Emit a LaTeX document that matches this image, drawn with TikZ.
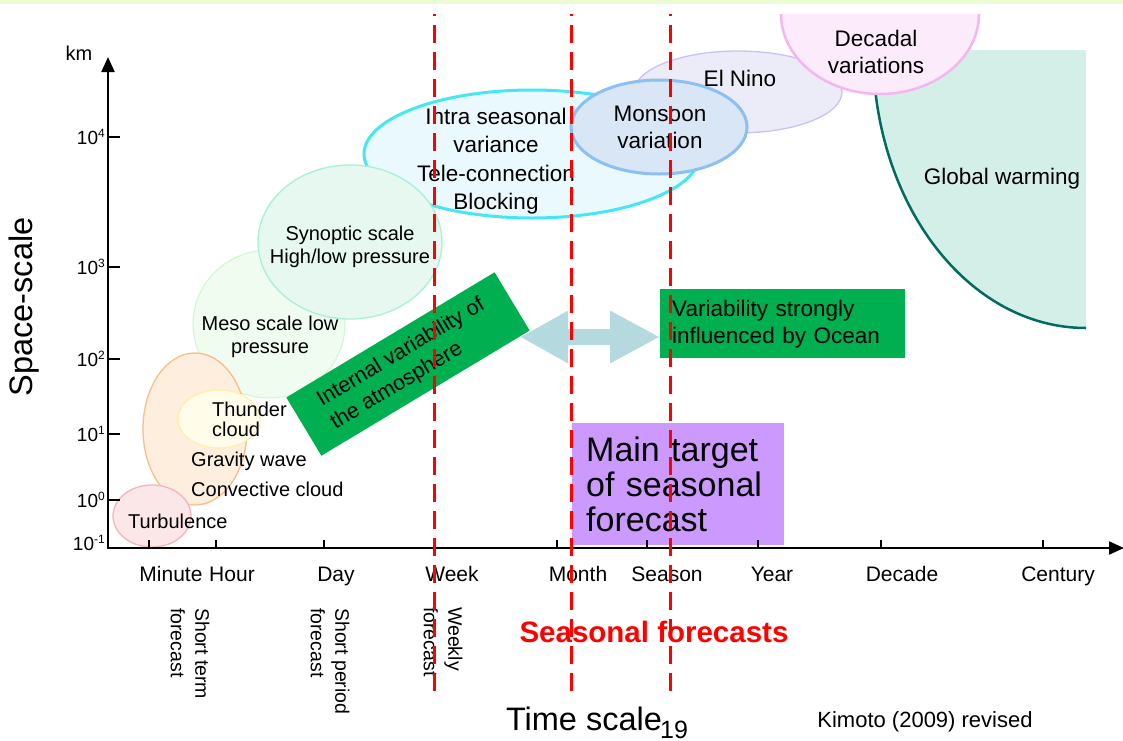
\documentclass[tikz,border=0pt]{standalone}
\usepackage{fontspec}
\setmainfont{Liberation Sans}
\usepackage{tikz}
\usetikzlibrary{arrows.meta,positioning,calc,shapes.geometric}
\definecolor{topband}{HTML}{EBFBD2}
\definecolor{oceangreen}{HTML}{00B050}
\definecolor{targetpurple}{HTML}{CC99FF}
\definecolor{arrowblue}{HTML}{B4DADF}
\definecolor{warmline}{HTML}{006B5F}
\definecolor{warmfill}{HTML}{D4EFE7}
\definecolor{turbdraw}{HTML}{F5B5BD}
\definecolor{turbfill}{HTML}{FBE6E8}
\definecolor{convdraw}{HTML}{F8BE8A}
\definecolor{convfill}{HTML}{FDEEDD}
\definecolor{thunddraw}{HTML}{FFEFB0}
\definecolor{thundfill}{HTML}{FFFDEA}
\definecolor{mesodraw}{HTML}{CDF7D0}
\definecolor{mesofill}{HTML}{F0FCF0}
\definecolor{syndraw}{HTML}{A8F0D8}
\definecolor{synfill}{HTML}{E6F8F0}
\definecolor{intradraw}{HTML}{45E8F2}
\definecolor{intrafill}{HTML}{EAF9FD}
\definecolor{ninodraw}{HTML}{C9C3F3}
\definecolor{ninofill}{HTML}{ECEBF8}
\definecolor{monsdraw}{HTML}{8CBFF2}
\definecolor{monsfill}{HTML}{D8E6F6}
\definecolor{decdraw}{HTML}{F4B6EE}
\definecolor{decfill}{HTML}{FCEBFA}
\tikzset{
  blob/.style     = {ellipse,draw,line width=1.3pt,inner sep=0pt},
  txt/.style      = {font=\fontsize{20}{23}\selectfont,align=center,inner sep=0pt},
  bigtxt/.style   = {font=\fontsize{22.5}{27}\selectfont,align=center,inner sep=0pt},
  timelbl/.style  = {font=\fontsize{21}{21}\selectfont,anchor=base,inner sep=0pt},
  powlbl/.style   = {font=\fontsize{19}{19}\selectfont,anchor=base east,inner sep=0pt},
  fclbl/.style    = {font=\fontsize{19.5}{24.5}\selectfont,align=left,rotate=-90,
                     anchor=west,inner sep=0pt},
  greenbox/.style = {fill=oceangreen,font=\fontsize{22.5}{27}\selectfont,align=left,
                     inner sep=0pt},
  axis/.style     = {line width=2pt,-{Triangle[length=15pt,width=13pt]}},
  dblarrow/.style = {arrowblue,line width=16pt,
                     {Triangle[length=48pt,width=49pt]}-{Triangle[length=50pt,width=49pt]}},
  seasonline/.style = {red,line width=3pt,dash pattern=on 18pt off 9pt,dash phase=16pt},
}
\newcommand{\tenpow}[1]{10\raisebox{7pt}{\fontsize{12}{12}\selectfont #1}}

\begin{document}
\begin{tikzpicture}[x=1pt,y=-1pt,font=\fontsize{20}{23}\selectfont]
  \useasboundingbox (0,0) rectangle (1123,740);
  \fill[white] (0,0) rectangle (1123,740);
  \fill[topband] (0,0) rectangle (1123,4);

  % Phenomena, small to large
  \node[blob,draw=intradraw,fill=intrafill,line width=3pt,
        minimum width=336pt,minimum height=128pt] (intra) at (532,154) {};
  \node[blob,draw=mesodraw,fill=mesofill,line width=1pt,
        minimum width=152pt,minimum height=148pt] (meso) at (269,324) {};
  \node[blob,draw=syndraw,fill=synfill,
        minimum width=184pt,minimum height=154pt] (syn) at (350,242) {};
  \node[blob,draw=convdraw,fill=convfill,
        minimum width=104pt,minimum height=152pt] (conv) at (195,429) {};
  \node[blob,draw=thunddraw,fill=thundfill,
        minimum width=82pt,minimum height=58pt] (thund) at (219,419) {};
  \node[blob,draw=turbdraw,fill=turbfill,
        minimum width=78pt,minimum height=62pt] (turb) at (152,516) {};
  \node[blob,draw=ninodraw,fill=ninofill,
        minimum width=208pt,minimum height=82pt] (nino) at (738,92) {};
  \node[blob,draw=monsdraw,fill=monsfill,line width=3pt,
        minimum width=176pt,minimum height=94pt] (mons) at (659,127) {};
  % Global warming
  \fill[warmfill] (873,50) .. controls (873,204) and (968,328) .. (1086,328)
                  -- (1086,50) -- cycle;
  \draw[warmline,line width=2.5pt] (873,50) .. controls (873,204) and (968,328) .. (1086,328);
  \begin{scope}
    \clip (0,14) rectangle (1123,740);
    \node[blob,draw=decdraw,fill=decfill,line width=2.5pt,
          minimum width=198pt,minimum height=160pt] (dec) at (880,14) {};
  \end{scope}

  % Texts of the phenomena
  \node[txt,anchor=base west] (turbT) at (128,528) {Turbulence};
  \node[txt,anchor=base west] (convT) at (191,496) {Convective cloud};
  \node[txt,anchor=base west] (gravT) at (191,466) {Gravity wave};
  \node[txt,align=left,anchor=west,font=\fontsize{20}{20}\selectfont] (thundT)
        at (212,419) {Thunder\\cloud};
  \node[txt] (mesoT) at (270,337) {Meso scale low\\pressure};
  \node[txt] (synT) at (350,247) {Synoptic scale\\High/low pressure};
  \node[bigtxt,font=\fontsize{22.5}{28.5}\selectfont] (intraT) at (496,161)
        {Intra seasonal\\variance\\Tele-connection\\Blocking};
  \node[bigtxt] (monsT) at (660,127) {Monsoon\\variation};
  \node[bigtxt] (ninoT) at (740,78) {El Nino};
  \node[bigtxt] (decT) at (876,52) {Decadal\\variations};
  \node[bigtxt] (warmT) at (1002,179) {Global warming};

  % Boxes and arrow
  \node[greenbox,anchor=north west,text width=221pt,inner xsep=12pt,
        minimum height=69pt] (ocean) at (660,289)
        {Variability strongly\\influenced by Ocean};
  \coordinate (arrL) at (520,337);
  \coordinate (arrR) at (ocean.west |- arrL);
  \draw[dblarrow] (arrL) -- (arrR);
  \node[greenbox,rotate=31,minimum width=243pt,minimum height=68pt,
        font=\fontsize{21.5}{26.5}\selectfont] (intvar)
        at (408,364) {Internal variability of\\the atmosphere};
  \node[fill=targetpurple,anchor=north west,text width=184pt,inner xsep=14pt,
        inner ysep=0pt,minimum height=122pt,align=left,
        font=\fontsize{34}{35}\selectfont] (target) at (572,423)
        {Main target\\of seasonal\\forecast};

  % Axes
  \draw[axis] (108,549) -- (108,57);
  \draw[axis] (107,548) -- (1124,548);
  \node[txt,anchor=base] (km) at (79,60) {km};
  \foreach \e/\y in {4/137,3/267,2/359,1/434,0/500}{
    \draw[line width=1.5pt] (109,\y) -- (120,\y);
  }
  \foreach \e/\y in {4/137,3/267,2/359,1/434,0/500,-1/543}{
    \node[powlbl] at (105,\y+7.5) {\tenpow{\e}};
  }
  \node[rotate=90,inner sep=0pt,font=\fontsize{32.5}{32.5}\selectfont] (space)
        at (24,307) {Space-scale};
  \foreach \x in {149,216,324,434,557,647,758,881,1043}{
    \draw[line width=1.5pt] (\x,548) -- (\x,540);
  }
  \foreach \x/\name in {171/Minute,232/Hour,336/Day,452/Week,578/Month,
                        667/Season,772/Year,902/Decade,1058/Century}{
    \node[timelbl] at (\x,581) {\name};
  }
  \node[fclbl] (shortT) at (190,608) {Short term\\forecast};
  \node[fclbl] (periodT) at (330,608) {Short period\\forecast};
  \node[fclbl] (weeklyT) at (443,607) {Weekly\\forecast};

  \node[anchor=base,inner sep=0pt,text=red,
        font=\fontsize{29.5}{29.5}\selectfont\bfseries] (seasT) at (654,642)
        {Seasonal forecasts};
  \node[anchor=base,inner sep=0pt,font=\fontsize{32.5}{32.5}\selectfont] (timeT)
        at (584,730) {Time scale};
  \node[anchor=base,inner sep=0pt,font=\fontsize{25}{25}\selectfont] (pageT)
        at (674,738) {19};
  \node[anchor=base,inner sep=0pt,font=\fontsize{22}{22}\selectfont] (srcT)
        at (925,727) {Kimoto (2009) revised};

  % Forecast borders
  \foreach \x in {434,571,670}{
    \draw[seasonline] (\x,14) -- (\x,697);
  }
\end{tikzpicture}
\end{document}
